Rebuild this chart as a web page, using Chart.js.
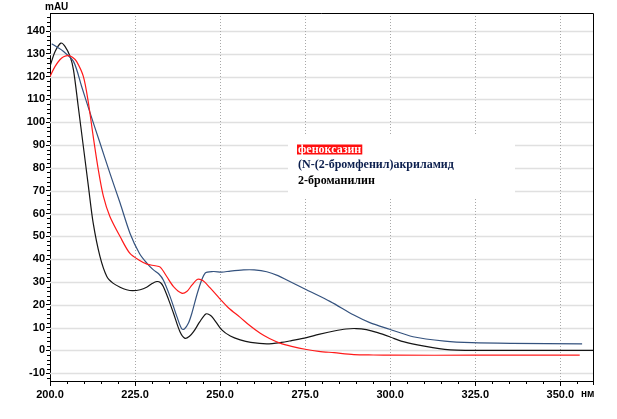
<!DOCTYPE html>
<html lang="ru">
<head>
<meta charset="UTF-8">
<title>УФ-спектры</title>
<script src="https://cdn.jsdelivr.net/npm/chart.js"></script>
<style>
  html, body { margin: 0; padding: 0; background: #fff; }
  canvas { display: block; }
</style>
</head>
<body>
<canvas id="spectra" width="617" height="419"></canvas>
<script>
// легенда
const seriesNames = ['феноксазин', '(N-(2-бромфенил)акриламид', '2-броманилин'];

// феноксазин (красный)
const redX = [200, 201.5, 202.9, 204, 205.4, 206.6, 207.8, 209.8, 211.3, 212.7, 214.2, 215.7, 217.6, 220.6, 223.5, 226.5, 228.5, 230.9, 232.4, 234.3, 236.3, 238.7, 240.2, 241.7, 243.4, 245, 247, 250, 252.5, 255.9, 258.8, 261.8, 264.5, 267.6, 271, 275.4, 279, 283.5, 289.3, 295, 300.9, 325, 355.7];
const redY = [120.1, 124.5, 127.4, 128.7, 129.2, 128.5, 126.7, 120.1, 108.4, 93.8, 79.2, 67.5, 58.7, 49.9, 42.5, 39.3, 37.8, 37.1, 36.5, 32.4, 28, 25.1, 25.8, 28.6, 31.2, 30.5, 27.5, 22.5, 18.6, 14.5, 10.8, 7.5, 5.2, 3.2, 1.8, 0.4, -0.4, -1.0, -1.8, -2.0, -2.1, -2.1, -2.1];

// (N-(2-бромфенил)акриламид (синий)
const blueX = [200.5, 202, 203.9, 206.9, 209.3, 211.8, 214.7, 217.6, 220.6, 223.5, 226.3, 228.5, 230.4, 232, 233.3, 235.3, 237.3, 238.7, 239.5, 240.7, 241.7, 243.6, 245.6, 248, 250.5, 253, 256.9, 260, 263.7, 267, 269.6, 275.5, 282.4, 289.3, 294, 299.8, 306.7, 316, 324, 335.7, 356.4];
const blueY = [134.4, 133, 131.1, 126.7, 115.7, 104, 90.9, 77.7, 64.6, 51.4, 42.5, 38.2, 35.3, 33.5, 30.9, 23.6, 14.8, 9.5, 9.4, 12, 16.3, 26.5, 33.9, 34.6, 34.3, 34.8, 35.3, 35.3, 34.5, 32.8, 30.9, 26.5, 21.4, 15.5, 12.2, 9.3, 6.0, 4.1, 3.4, 3.1, 2.9];

// 2-броманилин (чёрный)
const blackX = [200, 201.5, 203.2, 204.4, 205.9, 206.9, 208.3, 209.8, 211.3, 212.7, 214.7, 216.7, 218.5, 220.6, 222.5, 224.3, 226.5, 228.4, 230, 231.4, 232.5, 233.3, 234.8, 236.3, 238.2, 239.7, 241, 242.2, 244, 245.8, 247, 248, 250.5, 253, 255.9, 259, 263.7, 268, 271, 275.4, 279, 283.5, 287, 290, 293, 296.3, 300, 303.2, 308, 312.5, 316, 319.5, 325, 340, 359.6];
const blackY = [124.5, 131, 134.7, 133.3, 128.9, 123, 106.9, 89.4, 71.8, 55.8, 41.1, 32.4, 29.5, 27.7, 26.6, 26.2, 26.6, 27.7, 29.3, 30.2, 29.7, 28, 22.5, 16.3, 8.2, 5.3, 6.2, 8.2, 12.5, 16, 15.5, 14.1, 9, 6.3, 4.6, 3.5, 2.9, 3.5, 4.3, 5.6, 7, 8.5, 9.4, 9.6, 9.1, 7.8, 5.9, 4.1, 2.4, 1.2, 0.5, 0.15, 0, 0, 0];

const xMin = 200, xMax = 359.6;
const yMin = -13.4, yMax = 147.9;

function pts(xs, ys) {
    return xs.map((x, i) => ({ x: x, y: ys[i] }));
}

const font = '"Liberation Sans", Arial, sans-serif';

const decor = {
    id: 'decor',
    beforeDatasetsDraw(chart) {
        const ctx = chart.ctx;
        const a = chart.chartArea;
        const xs = chart.scales.x, ys = chart.scales.y;
        ctx.save();
        // горизонтальная сетка
        ctx.strokeStyle = '#e0e0e0';
        ctx.lineWidth = 1.6;
        for (let v = -10; v <= 140; v += 10) {
            const y = Math.round(ys.getPixelForValue(v)) + 0.5;
            ctx.beginPath(); ctx.moveTo(a.left, y); ctx.lineTo(a.right, y); ctx.stroke();
        }
        // вертикальная сетка, пунктир
        ctx.strokeStyle = '#a8a8a8';
        ctx.lineWidth = 1;
        ctx.setLineDash([1, 2]);
        for (let v = 225; v <= 350; v += 25) {
            const x = Math.round(xs.getPixelForValue(v)) + 0.5;
            ctx.beginPath(); ctx.moveTo(x, a.top); ctx.lineTo(x, a.bottom); ctx.stroke();
        }
        ctx.setLineDash([]);
        // фон легенды
        ctx.fillStyle = '#fff';
        ctx.fillRect(288, 136, 227, 61);
        ctx.restore();
    },
    afterDraw(chart) {
        const ctx = chart.ctx;
        const a = chart.chartArea;
        const xs = chart.scales.x, ys = chart.scales.y;
        ctx.save();
        ctx.strokeStyle = '#000';
        ctx.lineWidth = 1;
        // рамка сверху и справа
        ctx.beginPath();
        ctx.moveTo(a.left, a.top + 0.5); ctx.lineTo(a.right + 0.5, a.top + 0.5);
        ctx.lineTo(a.right + 0.5, a.bottom);
        ctx.stroke();
        // мелкие засечки
        ctx.beginPath();
        for (let v = -12; v <= 146; v += 2) {
            if (v % 10 === 0) continue;
            const y = Math.round(ys.getPixelForValue(v)) + 0.5;
            ctx.moveTo(a.left - 3, y); ctx.lineTo(a.left, y);
        }
        for (let v = 205; v <= 359; v += 5) {
            if (v % 25 === 0) continue;
            const x = Math.round(xs.getPixelForValue(v)) + 0.5;
            ctx.moveTo(x, a.bottom); ctx.lineTo(x, a.bottom + 3);
        }
        const xr = Math.round(xs.getPixelForValue(xMax)) + 0.5;
        ctx.moveTo(xr, a.bottom); ctx.lineTo(xr, a.bottom + 4);
        ctx.stroke();
        // подписи осей
        ctx.fillStyle = '#000';
        ctx.font = 'bold 10px ' + font;
        ctx.textBaseline = 'middle';
        ctx.textAlign = 'left';
        ctx.fillText('mAU', 45, 7.5);
        ctx.fillText('нм', 581, 394);
        // легенда
        ctx.font = 'bold 12px "Liberation Serif", "Times New Roman", serif';
        const w0 = ctx.measureText(seriesNames[0]).width;
        ctx.fillStyle = '#ff1010';
        ctx.fillRect(297, 144.5, w0 + 2, 10);
        ctx.fillStyle = '#fff';
        ctx.fillText(seriesNames[0], 298, 149.5);
        ctx.fillStyle = '#0c1f4e';
        ctx.fillText(seriesNames[1], 298, 164.5);
        ctx.fillStyle = '#000';
        ctx.fillText(seriesNames[2], 298, 180.5);
        ctx.restore();
    }
};

new Chart(document.getElementById('spectra').getContext('2d'), {
    type: 'line',
    data: {
        datasets: [
            { label: seriesNames[0], data: pts(redX, redY), borderColor: '#ff1a1a' },
            { label: seriesNames[1], data: pts(blueX, blueY), borderColor: '#34527e' },
            { label: seriesNames[2], data: pts(blackX, blackY), borderColor: '#151515' }
        ]
    },
    options: {
        responsive: false,
        animation: false,
        parsing: false,
        layout: { padding: { left: 0, right: 24, top: 13, bottom: 0 } },
        elements: {
            point: { radius: 0 },
            line: { borderWidth: 1.2, tension: 0.3, fill: false }
        },
        plugins: { legend: { display: false }, tooltip: { enabled: false } },
        scales: {
            x: {
                type: 'linear',
                min: xMin,
                max: xMax,
                afterFit: s => { s.height = 38; },
                ticks: {
                    stepSize: 25,
                    includeBounds: false,
                    autoSkip: false,
                    maxRotation: 0,
                    padding: 2,
                    color: '#000',
                    font: { family: font, size: 11, weight: 'bold' },
                    callback: v => v.toFixed(1)
                },
                grid: { drawOnChartArea: false, drawTicks: true, tickLength: 5, tickColor: '#000' },
                border: { display: true, color: '#000', width: 1 }
            },
            y: {
                type: 'linear',
                min: yMin,
                max: yMax,
                afterFit: s => { s.width = 50; },
                ticks: {
                    stepSize: 10,
                    includeBounds: false,
                    autoSkip: false,
                    padding: 1,
                    color: '#000',
                    font: { family: font, size: 11, weight: 'bold' }
                },
                grid: { drawOnChartArea: false, drawTicks: true, tickLength: 4, tickColor: '#000' },
                border: { display: true, color: '#000', width: 1 }
            }
        }
    },
    plugins: [decor]
});
</script>
</body>
</html>
